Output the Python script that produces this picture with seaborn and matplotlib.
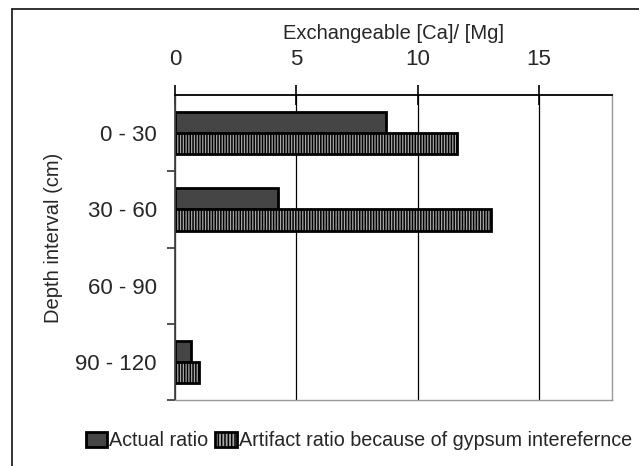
import matplotlib
matplotlib.use("Agg")
import matplotlib.pyplot as plt
import seaborn as sns
import pandas as pd
import numpy as np
from matplotlib.lines import Line2D

categories = ["0 - 30", "30 - 60", "60 - 90", "90 - 120"]
series_names = ["Actual ratio", "Artifact ratio because of gypsum interefernce"]
actual = [8.68, 4.24, np.nan, 0.66]
artifact = [11.6, 13.03, np.nan, 0.99]
x_ticks = [0, 5, 10, 15]

df = pd.DataFrame({
    "depth": categories * 2,
    "value": actual + artifact,
    "series": [series_names[0]] * 4 + [series_names[1]] * 4,
})

sns.set_theme(style="white")
plt.rcParams["font.family"] = ["Liberation Sans", "DejaVu Sans"]
plt.rcParams["hatch.linewidth"] = 1.1

fig = plt.figure(figsize=(6.39, 4.66), dpi=100)
ax = fig.add_axes([175/639, 1-400/466, (612-175)/639, (400-95)/466])

sns.barplot(data=df, y="depth", x="value", hue="series", order=categories,
            hue_order=series_names, orient="h", ax=ax, width=0.56,
            palette=["#454545", "#a8a8a8"], edgecolor="black", linewidth=2,
            saturation=1, legend=True)

for bar in ax.containers[1]:
    bar.set_hatch("||||||")
for bar in ax.containers[0]:
    bar.set_hatch("")

ax.set_xlim(0, 18)
ax.set_ylim(3.5, -0.5)
ax.xaxis.tick_top()
ax.xaxis.set_label_position("top")
ax.set_xticks(x_ticks)
ax.set_xticklabels([str(t) for t in x_ticks], fontsize=16)
ax.set_xlabel("Exchangeable [Ca]/ [Mg]", fontsize=14.5, labelpad=7)
ax.set_ylabel("Depth interval (cm)", fontsize=14.5)
ax.yaxis.set_label_coords(-0.256, 0.53)
ax.set_yticks(range(len(categories)))
ax.set_yticklabels(categories, fontsize=16)
ax.tick_params(axis="y", length=0, pad=13)
ax.set_yticks([0.5, 1.5, 2.5, 3.5], minor=True)
ax.tick_params(axis="y", which="minor", length=6, width=1.2, color="#333333", left=True, direction="out")
ax.tick_params(axis="x", which="major", length=14, width=1.2, color="black", direction="inout", top=True, pad=11)
ax.grid(axis="x", color="black", linewidth=0.9)
ax.set_axisbelow(True)

ax.spines["top"].set_color("black")
ax.spines["top"].set_linewidth(1.3)
ax.spines["left"].set_color("#444444")
ax.spines["left"].set_linewidth(1.3)
ax.spines["right"].set_color("#999999")
ax.spines["bottom"].set_color("#999999")
ax.spines["right"].set_linewidth(1)
ax.spines["bottom"].set_linewidth(1)

leg = ax.get_legend()
handles, labels = ax.get_legend_handles_labels()
leg.remove()
new_leg = fig.legend(handles, labels, loc="center", bbox_to_anchor=(359/639, 1-441/466),
           ncol=2, frameon=False, fontsize=14.2, handlelength=1.1, handleheight=0.8,
           handletextpad=0.1, columnspacing=0.35, borderaxespad=0)
lh = new_leg.legend_handles
lh[0].set_facecolor("#454545")
lh[1].set_facecolor("#a8a8a8")
lh[1].set_hatch("|||||")
for h in lh:
    h.set_edgecolor("black")
    h.set_linewidth(2)

fig.add_artist(Line2D([11.5/639, 11.5/639], [0, 1-9/466], transform=fig.transFigure, color="#222222", linewidth=1.3))
fig.add_artist(Line2D([11.5/639, 1], [1-9/466, 1-9/466], transform=fig.transFigure, color="#222222", linewidth=1.3))

fig.savefig("out.png", dpi=100)
